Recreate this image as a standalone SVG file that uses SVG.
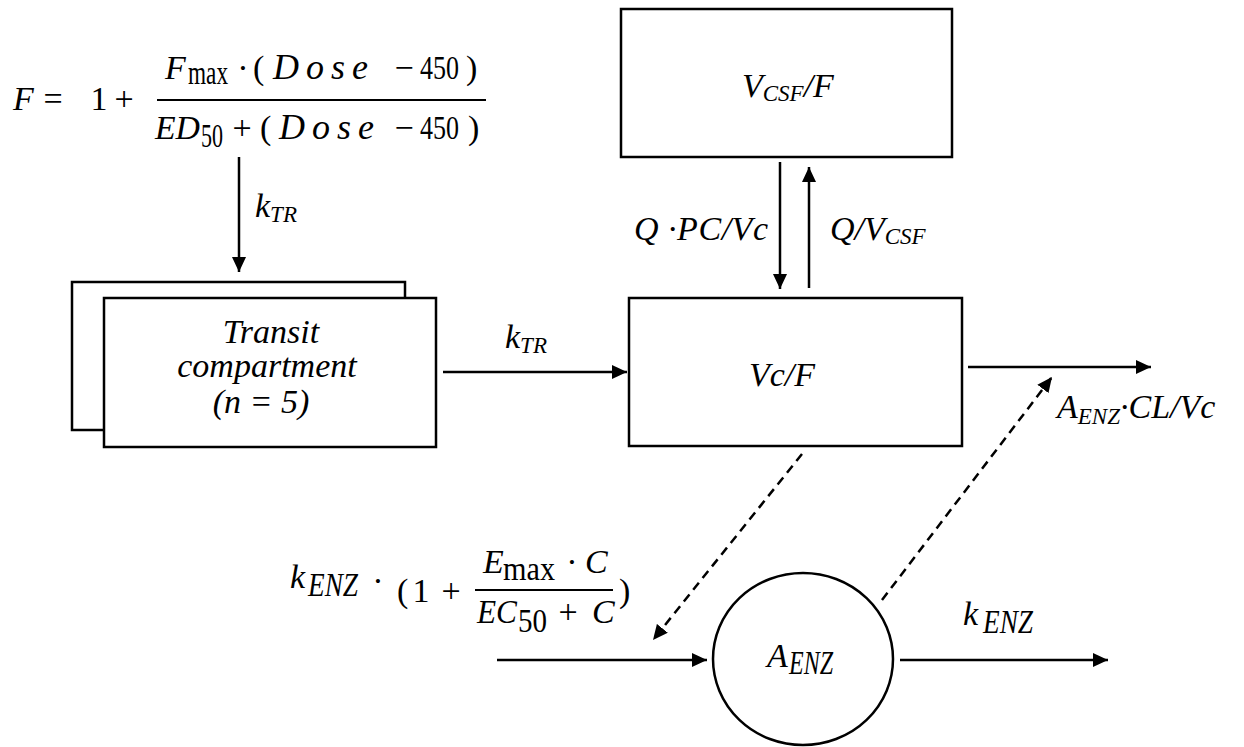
<svg xmlns="http://www.w3.org/2000/svg" width="1244" height="747" viewBox="0 0 1244 747">
<style>
.box{fill:#fff;stroke:#000;stroke-width:2.5}
.ln{fill:none;stroke:#000;stroke-width:2.5}
.dash{fill:none;stroke:#000;stroke-width:2.5;stroke-dasharray:9 6}
.t{font-family:'Liberation Serif','Tinos','Times New Roman','Nimbus Roman','Noto Serif','DejaVu Serif',serif;font-style:italic;font-size:34px;fill:#000}
.ts{font-size:23px}
.m{font-family:'Liberation Serif','Tinos','Times New Roman','Nimbus Roman','Noto Serif','DejaVu Serif',serif;font-size:34px;fill:#000}
.mi{font-style:italic}
.dose{font-size:36px;letter-spacing:7px}
.bar{stroke:#000;stroke-width:2}
</style>
<defs>
<marker id="ah" markerUnits="userSpaceOnUse" markerWidth="16" markerHeight="14" refX="15" refY="7" orient="auto">
<path d="M0,0 L15,7 L0,14 z" fill="#000"/>
</marker>
</defs>

<g id="formula-F">
<text class="m mi" x="13" y="110">F</text>
<text class="m" x="53" y="110" text-anchor="middle">=</text>
<text class="m" x="99" y="110" text-anchor="middle">1</text>
<text class="m" x="124" y="110" text-anchor="middle">+</text>
<line class="bar" x1="157" y1="100" x2="486" y2="100"/>
<text class="m mi" x="165" y="79">F</text>
<text class="m" x="188" y="84" font-size="26" textLength="40" lengthAdjust="spacingAndGlyphs">max</text>
<text class="m" x="243" y="79" text-anchor="middle">·</text>
<text class="m" x="253" y="79">(</text>
<text class="m mi dose" x="273" y="79">Dose</text>
<text class="m" x="404" y="79" text-anchor="middle">−</text>
<text class="m" x="420" y="79" textLength="39" lengthAdjust="spacingAndGlyphs">450</text>
<text class="m" x="466" y="79">)</text>
<text class="m mi" x="155" y="139" textLength="45" lengthAdjust="spacingAndGlyphs">ED</text>
<text class="m" x="201" y="147" font-size="24" textLength="22" lengthAdjust="spacingAndGlyphs">50</text>
<text class="m" x="242" y="139" text-anchor="middle">+</text>
<text class="m" x="260" y="139">(</text>
<text class="m mi dose" x="279" y="139">Dose</text>
<text class="m" x="404" y="139" text-anchor="middle">−</text>
<text class="m" x="420" y="139" textLength="39" lengthAdjust="spacingAndGlyphs">450</text>
<text class="m" x="468" y="139">)</text>
</g>

<g id="formula-kENZ">
<text class="m mi" x="290" y="588">k</text>
<text class="m mi" x="308" y="596" font-size="24" textLength="50" lengthAdjust="spacingAndGlyphs">ENZ</text>
<text class="m" x="378" y="592" text-anchor="middle">·</text>
<text class="m" x="397" y="602">(</text>
<text class="m" x="421" y="602" text-anchor="middle">1</text>
<text class="m" x="451" y="602" text-anchor="middle">+</text>
<line class="bar" x1="475" y1="590" x2="613" y2="590"/>
<text class="m mi" x="483" y="573">E</text>
<text class="m" x="503" y="580" font-size="24" textLength="52" lengthAdjust="spacingAndGlyphs">max</text>
<text class="m" x="572" y="573" text-anchor="middle">·</text>
<text class="m mi" x="585" y="573">C</text>
<text class="m mi" x="477" y="623" textLength="40" lengthAdjust="spacingAndGlyphs">EC</text>
<text class="m" x="518" y="632" font-size="24" textLength="29" lengthAdjust="spacingAndGlyphs">50</text>
<text class="m" x="568" y="623" text-anchor="middle">+</text>
<text class="m mi" x="592" y="623">C</text>
<text class="m" x="619" y="602">)</text>
</g>

<g id="node-transit">
<rect class="box" x="72" y="282" width="333" height="148"/>
<rect class="box" x="104" y="298" width="332" height="149"/>
<text class="t" x="271" y="343" text-anchor="middle">Transit</text>
<text class="t" x="267" y="377" text-anchor="middle">compartment</text>
<text class="t" x="261" y="413" text-anchor="middle">(n = 5)</text>
</g>

<g id="node-vcsf">
<rect class="box" x="621" y="9" width="331" height="148"/>
<text class="t" x="742" y="97">V<tspan class="ts" dy="4">CSF</tspan><tspan dy="-4">/F</tspan></text>
</g>

<g id="node-vc">
<rect class="box" x="629" y="298" width="333" height="148"/>
<text class="t" x="782" y="386" text-anchor="middle">Vc/F</text>
</g>

<g id="node-aenz">
<ellipse class="box" cx="803" cy="659" rx="90" ry="86"/>
<text class="m mi" x="767" y="667">A</text>
<text class="m mi" x="789" y="674" font-size="23" textLength="44" lengthAdjust="spacingAndGlyphs">ENZ</text>
</g>

<g id="connectors">
<path class="ln" d="M239,157 L239,272" marker-end="url(#ah)"/>
<path class="ln" d="M443,372 L627,372" marker-end="url(#ah)"/>
<path class="ln" d="M780,162 L780,289" marker-end="url(#ah)"/>
<path class="ln" d="M809,288 L809,167" marker-end="url(#ah)"/>
<path class="ln" d="M968,367 L1151,367" marker-end="url(#ah)"/>
<path class="dash" d="M802,454 L653,640" marker-end="url(#ah)"/>
<path class="dash" d="M882,600 L1052,377" marker-end="url(#ah)"/>
<path class="ln" d="M497,660 L707,660" marker-end="url(#ah)"/>
<path class="ln" d="M900,660 L1108,660" marker-end="url(#ah)"/>
</g>

<g id="labels">
<text class="t" x="255" y="217">k<tspan class="ts" dy="5">TR</tspan></text>
<text class="t" x="505" y="348">k<tspan class="ts" dy="5">TR</tspan></text>
<text class="t" x="634" y="240" textLength="134" lengthAdjust="spacing">Q ·PC/Vc</text>
<text class="t" x="830" y="240">Q/V<tspan class="ts" dy="4">CSF</tspan></text>
<text class="t" x="1057" y="418">A<tspan class="ts" dy="6">ENZ</tspan><tspan dy="-6">·CL/Vc</tspan></text>
<text class="m mi" x="963" y="625">k</text>
<text class="m mi" x="983" y="633" font-size="24" textLength="50" lengthAdjust="spacingAndGlyphs">ENZ</text>
</g>
</svg>
